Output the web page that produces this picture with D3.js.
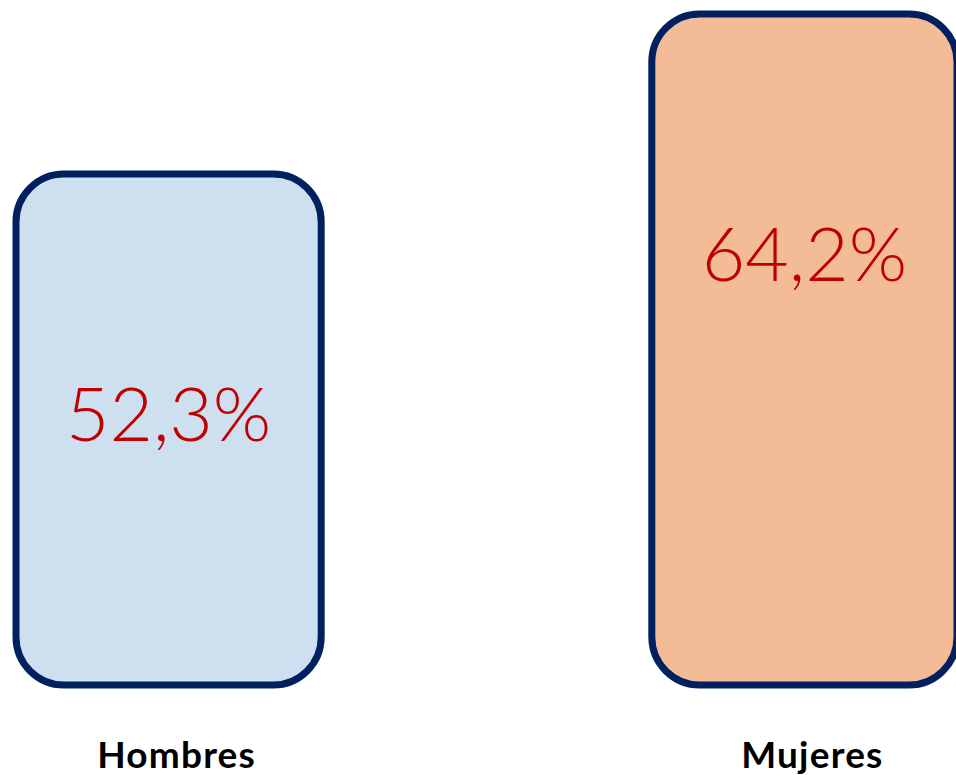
<!DOCTYPE html>
<html>
<head>
<meta charset="utf-8">
<script src="https://cdn.jsdelivr.net/npm/d3@7"></script>
<style>
  html, body { margin: 0; padding: 0; background: #fff; }
  svg { display: block; }
</style>
</head>
<body>
<script>
const categories = ['Hombres', 'Mujeres']
const values = [52.3, 64.2]
const valueLabels = ['52,3%', '64,2%']
const fills = ['#CEDFF0', '#F4BC96']

const width = 956
const height = 775

const svg = d3.select('body')
  .append('svg')
  .attr('width', width)
  .attr('height', height)

const xScale = d3.scaleBand()
  .domain(categories)
  .range([16, 957])
  .paddingInner(0.52)
  .paddingOuter(0)

// bars do not start from zero in the original
const yScale = d3.scaleLinear()
  .domain([14.3, 64.2])
  .range([685, 14])

const bars = svg.append('g')
  .selectAll('g')
  .data(categories)
  .enter()
  .append('g')

bars.append('rect')
  .attr('x', d => xScale(d))
  .attr('y', (d, i) => yScale(values[i]))
  .attr('width', xScale.bandwidth())
  .attr('height', (d, i) => yScale(14.3) - yScale(values[i]))
  .attr('rx', 48)
  .attr('ry', 48)
  .attr('fill', (d, i) => fills[i])
  .attr('stroke', '#002060')
  .attr('stroke-width', 7)

bars.append('text')
  .attr('x', d => xScale(d) + xScale.bandwidth() / 2)
  .attr('y', (d, i) => yScale(values[i]) + 267)
  .attr('text-anchor', 'middle')
  .attr('font-family', 'Lato, "Open Sans", sans-serif')
  .attr('font-weight', 300)
  .attr('font-size', 75)
  .attr('fill', '#C00000')
  .text((d, i) => valueLabels[i])

// category labels under the bars
bars.append('text')
  .attr('x', d => xScale(d) + xScale.bandwidth() / 2 + 8)
  .attr('y', 768)
  .attr('text-anchor', 'middle')
  .attr('font-family', 'Lato, "Open Sans", sans-serif')
  .attr('font-weight', 700)
  .attr('font-size', 37)
  .attr('letter-spacing', 1.2)
  .attr('fill', '#000')
  .text(d => d)
</script>
</body>
</html>
